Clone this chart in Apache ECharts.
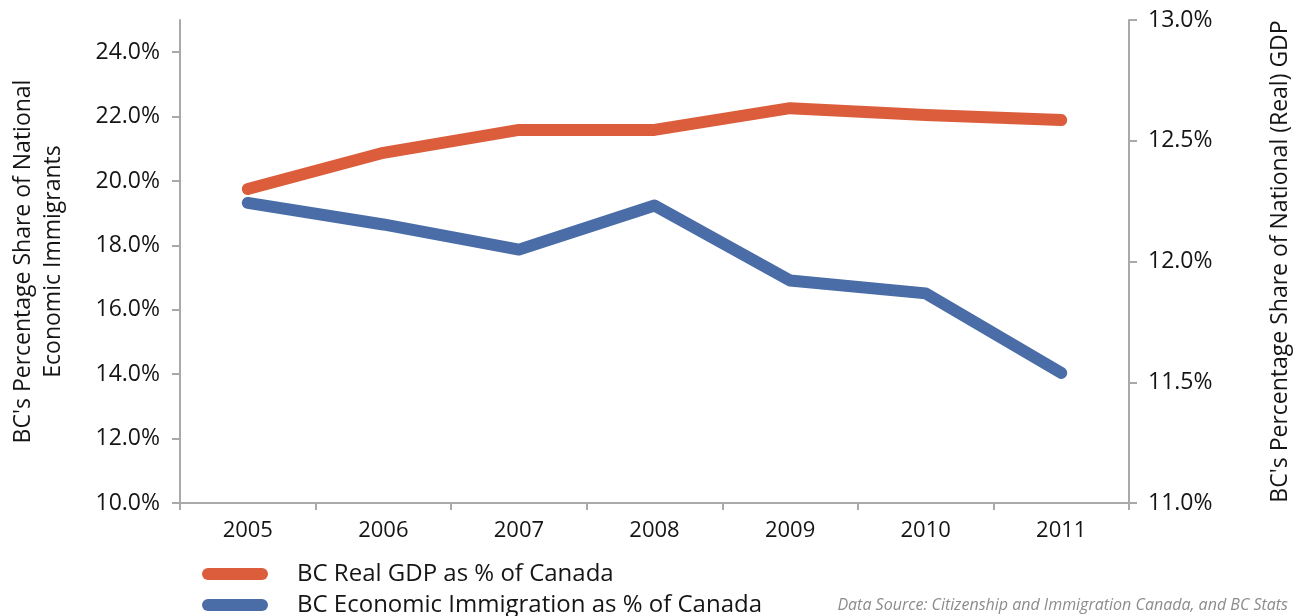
<!DOCTYPE html>
<html>
<head>
<meta charset="utf-8">
<script src="https://cdn.jsdelivr.net/npm/echarts@6/dist/echarts.min.js"></script>
<style>
  html, body { margin: 0; padding: 0; background: #fff; }
  #chart { width: 1304px; height: 616px; }
</style>
</head>
<body>
<div id="chart"></div>
<script>
// categories and series values
var years = ['2005', '2006', '2007', '2008', '2009', '2010', '2011'];
var gdpShare = [12.30, 12.45, 12.545, 12.545, 12.635, 12.607, 12.586];     // right axis
var immigrationShare = [19.32, 18.65, 17.87, 19.24, 16.91, 16.51, 14.04];  // left axis
var leftTicks = [10, 12, 14, 16, 18, 20, 22, 24];

var fontName = '"Open Sans", "Noto Sans", sans-serif';
var axisGrey = '#a9a9a9';
var textColor = '#151515';

function pct(v) {
	return v.toFixed(1) + '%';
}

var chart = echarts.init(document.getElementById('chart'));

var option = {
	animation: false,
	textStyle: { fontFamily: fontName },
	grid: {
		left: 177,
		right: 175,
		top: 20,
		bottom: 113
	},
	legend: {
		orient: 'vertical',
		left: 202,
		top: 562,
		height: 80,
		padding: 0,
		itemWidth: 66,
		itemHeight: 13,
		itemGap: 7,
		icon: 'path://M6,0 L60,0 A6,6 0 0 1 60,12 L6,12 A6,6 0 0 1 6,0 Z',
		textStyle: { fontSize: 24, lineHeight: 22, color: textColor, padding: [0, 0, 0, 24] },
		data: ['BC Real GDP as % of Canada', 'BC Economic Immigration as % of Canada']
	},
	xAxis: {
		type: 'category',
		data: years,
		boundaryGap: true,
		axisLine: { show: true, lineStyle: { color: axisGrey, width: 2 } },
		axisTick: { show: true, length: 7, lineStyle: { color: axisGrey, width: 2 } },
		axisLabel: { fontSize: 22, color: textColor, margin: 17 },
		splitLine: { show: false }
	},
	yAxis: [
		{
			type: 'value',
			position: 'left',
			min: 10,
			max: 25,
			interval: 2,
			name: "BC's Percentage Share of National\nEconomic Immigrants",
			nameLocation: 'middle',
			nameRotate: 90,
			nameGap: 112,
			nameTextStyle: { fontSize: 23, color: textColor, lineHeight: 30 },
			axisLine: { show: true, lineStyle: { color: axisGrey, width: 2 } },
			axisTick: { show: true, length: 8, customValues: leftTicks, lineStyle: { color: axisGrey, width: 2 } },
			axisLabel: { fontSize: 23, color: textColor, margin: 20, customValues: leftTicks, formatter: pct },
			splitLine: { show: false }
		},
		{
			type: 'value',
			position: 'right',
			min: 11,
			max: 13,
			interval: 0.5,
			name: "BC's Percentage Share of National (Real) GDP",
			nameLocation: 'middle',
			nameRotate: 90,
			nameGap: 140,
			nameTextStyle: { fontSize: 23, color: textColor },
			axisLine: { show: true, lineStyle: { color: axisGrey, width: 2 } },
			axisTick: { show: true, length: 8, lineStyle: { color: axisGrey, width: 2 } },
			axisLabel: { fontSize: 23, color: textColor, margin: 19, formatter: pct },
			splitLine: { show: false }
		}
	],
	graphic: [
		{
			type: 'text',
			right: 16,
			top: 597,
			style: {
				text: 'Data Source: Citizenship and Immigration Canada, and BC Stats',
				font: 'italic 16px ' + fontName,
				fill: '#8c8c8c'
			}
		}
	],
	series: [
		{
			name: 'BC Real GDP as % of Canada',
			type: 'line',
			yAxisIndex: 1,
			data: gdpShare,
			symbol: 'none',
			color: '#db5d3b',
			lineStyle: { width: 12, cap: 'round', join: 'round', color: '#db5d3b' },
			z: 3
		},
		{
			name: 'BC Economic Immigration as % of Canada',
			type: 'line',
			yAxisIndex: 0,
			data: immigrationShare,
			symbol: 'none',
			color: '#4a6da7',
			lineStyle: { width: 12, cap: 'round', join: 'round', color: '#4a6da7' },
			z: 2
		}
	]
};

chart.setOption(option);
</script>
</body>
</html>
